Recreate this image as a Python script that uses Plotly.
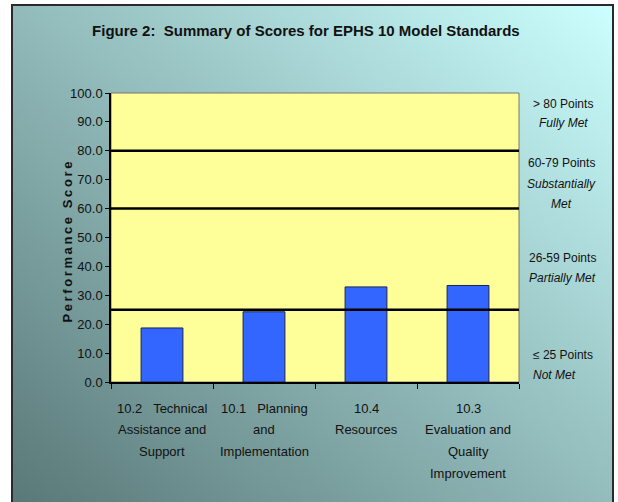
import base64
import plotly.graph_objects as go

# chart data
categories = ["10.2", "10.1", "10.4", "10.3"]
label_lines = [
    ["10.2\u00a0\u00a0\u00a0Technical", "Assistance and", "Support"],
    ["10.1\u00a0\u00a0\u00a0Planning", "and", "Implementation"],
    ["10.4", "Resources"],
    ["10.3", "Evaluation and", "Quality", "Improvement"],
]
scores = [18.7, 24.3, 32.9, 33.4]
thresholds = [25, 60, 80]
y_ticks = [0, 10, 20, 30, 40, 50, 60, 70, 80, 90, 100]

W, H = 618, 502
ML, MR, MT, MB = 111, 99, 93, 120
PW, PH = W - ML - MR, H - MT - MB
FONT = "Liberation Sans, Arial, sans-serif"


def px_x(px):
    return (px - ML) / PW


def px_y(py):
    return (H - MB - py) / PH


# gradient backdrop with dark frame, drawn as an svg image behind the plot
svg = f"""<svg xmlns='http://www.w3.org/2000/svg' width='{W}' height='{H}' viewBox='0 0 {W} {H}'>
<defs><linearGradient id='g' x1='0' y1='1' x2='1' y2='0'>
<stop offset='0' stop-color='#587676'/><stop offset='1' stop-color='#CCFFFF'/>
</linearGradient></defs>
<rect x='0' y='0' width='{W}' height='{H}' fill='white'/>
<rect x='12' y='5' width='601' height='510' fill='url(#g)' stroke='#2a2a2a' stroke-width='2'/>
</svg>"""
src = "data:image/svg+xml;base64," + base64.b64encode(svg.encode()).decode()

fig = go.Figure()
fig.add_trace(go.Bar(
    x=categories, y=scores,
    marker=dict(color="#3366FF", line=dict(color="#1c2550", width=1)),
    hoverinfo="y",
))

for t in thresholds:
    fig.add_shape(type="line", xref="paper", x0=0, x1=1, yref="y", y0=t, y1=t,
                  line=dict(color="black", width=2.5), layer="above")

annotations = []
# category labels, one annotation per line so the spacing matches
# (x is the category index, numeric-looking names would be read as indices)
for i, lines in enumerate(label_lines):
    for k, line in enumerate(lines):
        annotations.append(dict(
            x=i, xref="x", y=0, yref="paper", yanchor="middle",
            yshift=-(26 + k * 21.7), text=line, showarrow=False,
            font=dict(size=13, color="#111111", family=FONT)))

# rating bands at the right
right_labels = [
    ("> 80 Points", False, 563, 104, "center"),
    ("Fully Met", True, 563, 123, "center"),
    ("60-79 Points", False, 561, 163, "center"),
    ("Substantially", True, 561, 184, "center"),
    ("Met", True, 561, 204, "center"),
    ("26-59 Points", False, 562, 258, "center"),
    ("Partially Met", True, 562, 278, "center"),
    ("\u2264 25 Points", False, 531, 355, "left"),
    ("Not Met", True, 531, 375, "left"),
]
for text, ital, x, y, align in right_labels:
    annotations.append(dict(
        x=px_x(x), xref="paper", y=px_y(y), yref="paper",
        xanchor=align, yanchor="middle",
        text=f"<i>{text}</i>" if ital else text, showarrow=False,
        font=dict(size=12, color="#111111", family=FONT)))

# y axis title with spread-out letters
annotations.append(dict(
    x=px_x(57), xref="paper", y=px_y(242), yref="paper",
    text="<b>" + "\u2009".join("Performance Score") + "</b>",
    textangle=-90, showarrow=False,
    font=dict(size=13, color="#111111", family=FONT)))

fig.update_layout(
    width=W, height=H,
    margin=dict(l=ML, r=MR, t=MT, b=MB, pad=0),
    paper_bgcolor="white",
    plot_bgcolor="#FFFF99",
    showlegend=False,
    bargap=0.59,
    title=dict(text="<b>Figure 2:  Summary of Scores for EPHS 10 Model Standards</b>",
               x=0.495, xanchor="center", y=1 - 31 / H, yanchor="middle",
               font=dict(size=15, color="#111111", family=FONT)),
    images=[dict(source=src, xref="paper", yref="paper",
                 x=-ML / PW, y=1 + MT / PH, sizex=W / PW, sizey=H / PH,
                 xanchor="left", yanchor="top", sizing="stretch", layer="below")],
    annotations=annotations,
)

fig.update_xaxes(
    type="category", range=[-0.5, len(categories) - 0.5],
    showticklabels=False, ticks="outside", tickson="boundaries", ticklen=5,
    tickcolor="black", showline=True, linecolor="black", linewidth=1.5,
    mirror=False, showgrid=False, zeroline=False,
)
fig.update_yaxes(
    range=[0, 100], tickvals=y_ticks, tickformat=".1f", ticks="outside",
    ticklen=4, tickcolor="black", showline=True, linecolor="black",
    linewidth=1.5, showgrid=False, zeroline=False,
    tickfont=dict(size=13, color="#111111", family=FONT),
)
# yellow plot area with thin grey frame (the backdrop image sits over plot_bgcolor)
fig.add_shape(type="rect", xref="paper", yref="paper", x0=0, x1=1, y0=0, y1=1,
              fillcolor="#FFFF99", line=dict(color="#777777", width=1), layer="below")

# drop the browser's default page margin so the figure sits at the corner
fig.write_html("out.html", config={"displayModeBar": False},
               post_script="document.body.style.margin='0';")
